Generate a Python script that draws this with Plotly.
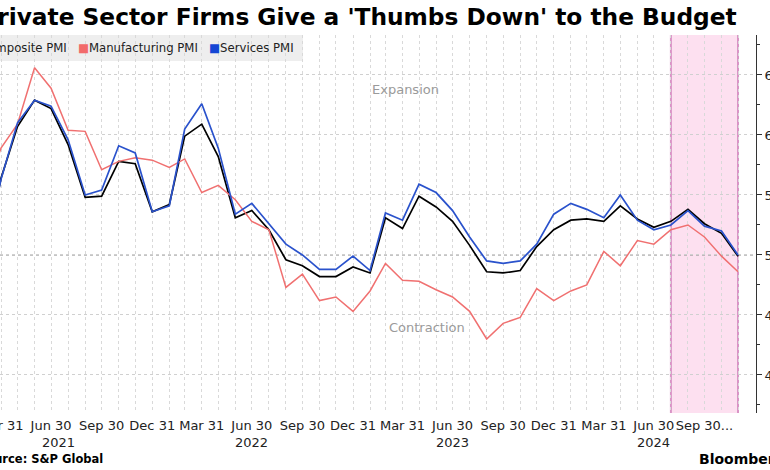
import pandas as pd
import plotly.graph_objects as go

# ---------------- data ----------------
months = [
    "2021-02", "2021-03", "2021-04", "2021-05", "2021-06", "2021-07", "2021-08", "2021-09",
    "2021-10", "2021-11", "2021-12",
    "2022-01", "2022-02", "2022-03", "2022-04", "2022-05", "2022-06", "2022-07", "2022-08",
    "2022-09", "2022-10", "2022-11", "2022-12",
    "2023-01", "2023-02", "2023-03", "2023-04", "2023-05", "2023-06", "2023-07", "2023-08",
    "2023-09", "2023-10", "2023-11", "2023-12",
    "2024-01", "2024-02", "2024-03", "2024-04", "2024-05", "2024-06", "2024-07", "2024-08",
    "2024-09", "2024-10", "2024-11",
]
composite_pmi = [
    49.6, 56.4, 60.7, 62.9, 62.2, 59.2, 54.8, 54.9, 57.8, 57.6, 53.6,
    54.2, 59.9, 60.9, 58.2, 53.1, 53.7, 52.1, 49.6, 49.1, 48.2, 48.2, 49.0,
    48.5, 53.1, 52.2, 54.9, 54.0, 52.8, 50.8, 48.6, 48.5, 48.7, 50.7, 52.1,
    52.9, 53.0, 52.8, 54.1, 53.0, 52.3, 52.8, 53.8, 52.6, 51.8, 49.9,
]
manufacturing_pmi = [
    55.1, 58.9, 60.9, 65.6, 63.9, 60.4, 60.3, 57.1, 57.8, 58.1, 57.9,
    57.3, 58.0, 55.2, 55.8, 54.6, 52.8, 52.1, 47.3, 48.4, 46.2, 46.5, 45.3,
    47.0, 49.3, 47.9, 47.8, 47.1, 46.5, 45.3, 43.0, 44.3, 44.8, 47.2, 46.2,
    47.0, 47.5, 50.3, 49.1, 51.2, 50.9, 52.1, 52.5, 51.5, 49.9, 48.6,
]
services_pmi = [
    49.5, 56.3, 61.0, 62.9, 62.4, 59.6, 55.0, 55.4, 59.1, 58.5, 53.6,
    54.1, 60.5, 62.6, 58.9, 53.4, 54.3, 52.6, 50.9, 50.0, 48.8, 48.8, 49.9,
    48.7, 53.5, 52.9, 55.9, 55.2, 53.7, 51.5, 49.5, 49.3, 49.5, 50.9, 53.4,
    54.3, 53.8, 53.1, 55.0, 52.9, 52.1, 52.5, 53.7, 52.4, 52.0, 50.0,
]
tick_dates = [
    "2021-03-31", "2021-06-30", "2021-09-30", "2021-12-31",
    "2022-03-31", "2022-06-30", "2022-09-30", "2022-12-31",
    "2023-03-31", "2023-06-30", "2023-09-30", "2023-12-31",
    "2024-03-31", "2024-06-30", "2024-09-30",
]
tick_labels = [
    "Mar 31", "Jun 30", "Sep 30", "Dec 31",
    "Mar 31", "Jun 30", "Sep 30", "Dec 31",
    "Mar 31", "Jun 30", "Sep 30", "Dec 31",
    "Mar 31", "Jun 30", "Sep 30...",
]
year_labels = ["2021", "2022", "2023", "2024"]
year_positions = ["2021-07-14", "2022-06-30", "2023-06-30", "2024-06-30"]
highlight_start = "2024-07-31"
highlight_end = "2024-11-30"

dates = [pd.Period(m, "M").end_time.normalize().strftime("%Y-%m-%d") for m in months]

# ---------------- geometry helpers (plot area: x 0..756, y 35..413) ----------------
PL, PR, PT, PB = 0, 756, 35, 413


def px(x):
    return (x - PL) / (PR - PL)


def py(y):
    return (PB - y) / (PB - PT)


FONT = "DejaVu Sans"
BLACK = "#000000"
RED = "#f07070"
BLUE = "#2a52cc"

fig = go.Figure()
fig.add_trace(go.Scatter(x=dates, y=composite_pmi, mode="lines", name="Composite PMI",
                         line=dict(color=BLACK, width=1.7)))
fig.add_trace(go.Scatter(x=dates, y=manufacturing_pmi, mode="lines", name="Manufacturing PMI",
                         line=dict(color=RED, width=1.5)))
fig.add_trace(go.Scatter(x=dates, y=services_pmi, mode="lines", name="Services PMI",
                         line=dict(color=BLUE, width=1.7)))

# highlight band
fig.add_shape(type="rect", xref="x", yref="paper", x0=highlight_start, x1=highlight_end,
              y0=0, y1=1, fillcolor="#fde0f0", line=dict(width=0), layer="below")
for xv in (highlight_start, highlight_end):
    fig.add_shape(type="line", xref="x", yref="paper", x0=xv, x1=xv, y0=0, y1=1,
                  line=dict(color="#d994c6", width=2), layer="between")

# 50 line
fig.add_shape(type="line", xref="paper", yref="y", x0=0, x1=1, y0=50, y1=50,
              line=dict(color="#8a8a8a", width=1.2, dash="dot"), layer="between")

# legend box
fig.add_shape(type="rect", xref="paper", yref="paper", x0=px(-10), x1=px(303),
              y0=py(61), y1=py(35), fillcolor="rgba(232,232,232,0.75)",
              line=dict(width=0), layer="below")

GAP = "&nbsp;&nbsp;&nbsp;"
legend_text = (
    f"<span style='color:{BLACK}'>■</span>Composite PMI{GAP}"
    f"<span style='color:#f26b6b'>■</span>Manufacturing PMI{GAP}"
    f"<span style='color:#1446d4'>■</span>Services PMI"
)
annotations = [
    dict(text=legend_text, x=px(296), y=py(48), xref="paper", yref="paper",
         xanchor="right", yanchor="middle", showarrow=False,
         font=dict(family=FONT, size=11.7, color="#222")),
    dict(text="<b>UK Private Sector Firms Give a 'Thumbs Down' to the Budget</b>",
         x=px(739), y=py(17), xref="paper", yref="paper", xanchor="right", yanchor="middle",
         showarrow=False, font=dict(family=FONT, size=23.3, color="#000")),
    dict(text="Expansion", x=px(405), y=py(89), xref="paper", yref="paper",
         xanchor="center", yanchor="middle", showarrow=False,
         font=dict(family=FONT, size=13, color="#9a9a9a")),
    dict(text="Contraction", x=px(427), y=py(327), xref="paper", yref="paper",
         xanchor="center", yanchor="middle", showarrow=False,
         font=dict(family=FONT, size=13, color="#9a9a9a")),
    dict(text="<b>Source: S&P Global</b>", x=px(105), y=py(459), xref="paper", yref="paper",
         xanchor="right", yanchor="middle", showarrow=False,
         font=dict(family=FONT, size=11.5, color="#000")),
    dict(text="<b>Bloomberg</b>", x=px(697), y=py(459), xref="paper", yref="paper",
         xanchor="left", yanchor="middle", showarrow=False,
         font=dict(family=FONT, size=14, color="#000")),
]
for yl, yp in zip(year_labels, year_positions):
    annotations.append(dict(text=yl, x=yp, y=py(442), xref="x", yref="paper",
                            xanchor="center", yanchor="middle", showarrow=False,
                            font=dict(family=FONT, size=13, color="#222")))

fig.update_layout(
    width=770, height=470,
    margin=dict(l=PL, r=770 - PR, t=PT, b=470 - PB, pad=0),
    paper_bgcolor="white", plot_bgcolor="white",
    showlegend=False,
    annotations=annotations,
    font=dict(family=FONT, size=13, color="#222"),
)
fig.update_xaxes(
    type="date",
    range=["2021-03-29 04:00", "2025-01-01 17:00"],
    tickmode="array", tickvals=tick_dates, ticktext=tick_labels,
    tickangle=0, ticklabeloverflow="allow", ticklabelstandoff=3,
    ticks="", showline=False, zeroline=False,
    showgrid=True, gridcolor="#d9d9d9", gridwidth=1, griddash="dot",
    minor=dict(tickmode="array", tickvals=dates, showgrid=True, gridcolor="#d9d9d9",
               gridwidth=1, griddash="dot", ticks=""),
    tickfont=dict(family=FONT, size=13, color="#222"),
    automargin=False, fixedrange=True,
)
fig.update_yaxes(
    side="right", range=[36.83, 68.33],
    tickmode="linear", tick0=40, dtick=5,
    ticks="outside", ticklen=5, tickcolor="#333", tickwidth=1,
    minor=dict(dtick=2.5, tick0=40, ticks="outside", ticklen=3, tickcolor="#333", showgrid=False),
    showline=True, linecolor="#333", linewidth=1,
    showgrid=True, gridcolor="#d0d0d0", gridwidth=1, griddash="dot",
    zeroline=False, ticklabeloverflow="allow",
    tickfont=dict(family=FONT, size=13, color="#222"),
    automargin=False, fixedrange=True,
)

fig.write_html("out.html", config={"displayModeBar": False},
               post_script="document.body.style.margin='0';")
